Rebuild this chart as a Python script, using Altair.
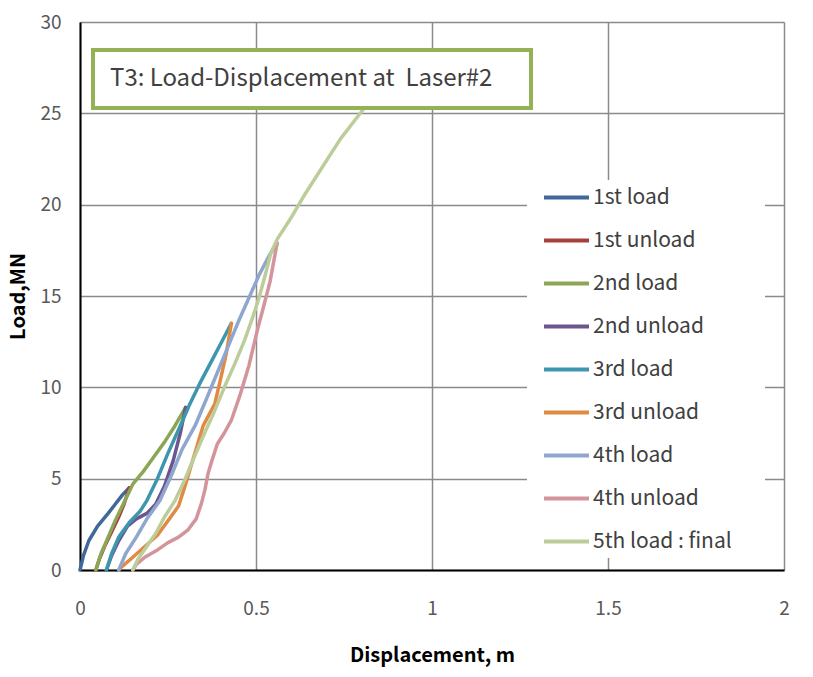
import altair as alt
import pandas as pd

FONT = "Noto Sans CJK KR"

series = ["1st load", "1st unload", "2nd load", "2nd unload", "3rd load",
          "3rd unload", "4th load", "4th unload", "5th load : final"]
colors = ["#41689B", "#A6403D", "#8BA655", "#6B5690", "#3D96AE",
          "#E08A43", "#8FA6CE", "#D3949B", "#BCCD9A"]

load1_x = [0.0, 0.01, 0.025, 0.05, 0.08, 0.10, 0.12, 0.14]
load1_y = [0.0, 0.8, 1.6, 2.4, 3.1, 3.6, 4.1, 4.5]

unload1_x = [0.14, 0.125, 0.11, 0.09, 0.07, 0.055, 0.045]
unload1_y = [4.5, 3.6, 2.9, 2.1, 1.3, 0.6, 0.0]

load2_x = [0.045, 0.06, 0.08, 0.10, 0.125, 0.15, 0.18, 0.21, 0.24, 0.27, 0.30]
load2_y = [0.0, 0.9, 1.8, 2.7, 3.7, 4.7, 5.4, 6.2, 7.0, 7.9, 8.9]

unload2_x = [0.30, 0.285, 0.265, 0.24, 0.215, 0.19, 0.16, 0.135, 0.11, 0.09, 0.075]
unload2_y = [8.9, 7.5, 6.0, 4.6, 3.6, 3.1, 2.8, 2.4, 1.6, 0.8, 0.0]

load3_x = [0.075, 0.09, 0.11, 0.14, 0.17, 0.19, 0.22, 0.25, 0.285, 0.31, 0.34, 0.37, 0.40, 0.43]
load3_y = [0.0, 0.9, 1.8, 2.6, 3.2, 3.8, 5.0, 6.4, 7.9, 9.0, 10.2, 11.3, 12.4, 13.5]

unload3_x = [0.43, 0.415, 0.40, 0.383, 0.35, 0.32, 0.30, 0.28, 0.25, 0.22, 0.185, 0.15, 0.12, 0.11]
unload3_y = [13.5, 11.8, 10.5, 9.1, 7.9, 6.0, 4.7, 3.5, 2.7, 1.9, 1.3, 0.7, 0.2, 0.0]

load4_x = [0.11, 0.13, 0.16, 0.19, 0.227, 0.26, 0.29, 0.327, 0.36, 0.39, 0.42, 0.45, 0.48, 0.51, 0.54, 0.56]
load4_y = [0.0, 0.9, 1.8, 2.8, 3.8, 5.2, 6.6, 7.9, 9.4, 10.8, 12.2, 13.6, 14.9, 16.2, 17.3, 17.9]

unload4_x = [0.56, 0.54, 0.52, 0.506, 0.48, 0.455, 0.43, 0.41, 0.39, 0.375, 0.364, 0.355,
             0.345, 0.33, 0.307, 0.28, 0.25, 0.22, 0.184, 0.16, 0.15]
unload4_y = [17.9, 15.8, 14.3, 13.3, 11.2, 9.6, 8.2, 7.5, 6.9, 6.0, 5.3, 4.4,
             3.65, 2.8, 2.2, 1.8, 1.5, 1.1, 0.7, 0.3, 0.0]

load5_x = [0.15, 0.165, 0.19, 0.215, 0.24, 0.27, 0.297, 0.325, 0.354, 0.38, 0.41, 0.44,
           0.468, 0.49, 0.51, 0.527, 0.543, 0.56, 0.597, 0.64, 0.69, 0.74, 0.80, 0.86]
load5_y = [0.0, 0.6, 1.3, 2.0, 2.9, 3.8, 4.9, 6.2, 7.5, 8.6, 10.0, 11.3,
           12.6, 13.8, 15.0, 16.2, 17.4, 18.1, 19.2, 20.6, 22.1, 23.6, 25.1, 26.6]

curves = [(load1_x, load1_y), (unload1_x, unload1_y), (load2_x, load2_y),
          (unload2_x, unload2_y), (load3_x, load3_y), (unload3_x, unload3_y),
          (load4_x, load4_y), (unload4_x, unload4_y), (load5_x, load5_y)]

x_ticks = [0, 0.5, 1, 1.5, 2]
y_ticks = [0, 5, 10, 15, 20, 25, 30]

title_text = "T3: Load-Displacement at\u00a0 Laser#2"

rows = []
for name, (xs, ys) in zip(series, curves):
    for i, (xv, yv) in enumerate(zip(xs, ys)):
        rows.append({"series": name, "x": xv, "y": yv, "idx": i})
df = pd.DataFrame(rows)

one = pd.DataFrame({"a": [0]})

xscale = alt.Scale(domain=[0, 2], nice=False, zero=False)
yscale = alt.Scale(domain=[0, 30], nice=False)

legend_bg = alt.Chart(one).mark_rect(fill="white").encode(
    x=alt.value(447), x2=alt.value(685), y=alt.value(158), y2=alt.value(536)
)

lines = alt.Chart(df).mark_line(strokeWidth=3.5, strokeJoin="round", strokeCap="round").encode(
    x=alt.X("x:Q", scale=xscale,
            axis=alt.Axis(values=x_ticks, format="~g", title="Displacement,  m",
                          grid=True, gridColor="#8A8A8A", gridWidth=1.5,
                          domainColor="black", domainWidth=2, ticks=False,
                          labelFlush=False,
                          labelFont=FONT, labelFontSize=19, labelColor="#595959",
                          labelPadding=29, titleFont=FONT, titleFontSize=20,
                          titleFontWeight="bold", titleColor="black",
                          titleY=85, titleBaseline="middle")),
    y=alt.Y("y:Q", scale=yscale,
            axis=alt.Axis(values=y_ticks, title="Load,MN",
                          grid=True, gridColor="#8A8A8A", gridWidth=1.5,
                          domainColor="black", domainWidth=2, ticks=False,
                          labelFlush=False,
                          labelFont=FONT, labelFontSize=19, labelColor="#595959",
                          labelPadding=19, titleFont=FONT, titleFontSize=20,
                          titleFontWeight="bold", titleColor="black",
                          titleX=-62, titleY=274, titleAngle=270,
                          titleAlign="center", titleBaseline="middle")),
    color=alt.Color("series:N", sort=series,
                    scale=alt.Scale(domain=series, range=colors),
                    legend=alt.Legend(title=None, orient="none", legendX=462, legendY=151,
                                      symbolType="stroke", symbolSize=2025,
                                      symbolStrokeWidth=4, labelFont=FONT,
                                      labelFontSize=21, labelColor="#404040",
                                      rowPadding=8, labelOffset=2, padding=0,
                                      labelLimit=300)),
    order="idx:Q",
)

title_box = alt.Chart(one).mark_rect(fill="white", stroke="#94B255", strokeWidth=4).encode(
    x=alt.value(13), x2=alt.value(451), y=alt.value(28), y2=alt.value(86)
)

title_label = alt.Chart(one).mark_text(
    text=title_text, font=FONT, fontSize=24, color="#404040",
    align="left", baseline="middle"
).encode(x=alt.value(30), y=alt.value(57))

chart = alt.layer(legend_bg, lines, title_box, title_label).properties(
    width=704, height=548,
    padding={"left": 80, "top": 22, "right": 29, "bottom": 107},
    autosize="none",
).configure_view(strokeWidth=0).configure(background="white")

chart.save("out.html", embed_options={"renderer": "svg", "actions": False})
